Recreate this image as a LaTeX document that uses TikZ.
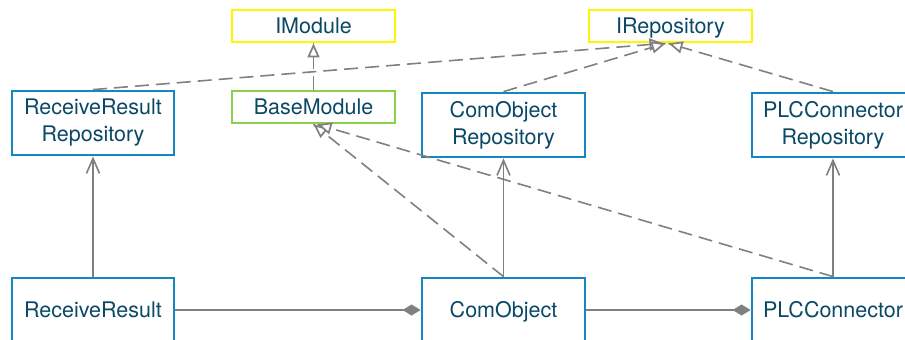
\documentclass[tikz,border=0pt]{standalone}
\usepackage{fontspec}
\setmainfont{TeX Gyre Heros}
\usetikzlibrary{arrows.meta,calc}
\definecolor{txt}{HTML}{0A4866}
\definecolor{bblue}{HTML}{1487C2}
\definecolor{bgreen}{HTML}{8CCF4D}
\definecolor{byellow}{HTML}{FFF700}
\definecolor{lgray}{HTML}{808080}
\newcommand\realizeline[2]{%
  \draw[dashconn] (#1) -- (#2);
  \draw[tipconn] ($(#2)!1pt!(#1)$) -- (#2);}
\begin{document}
\begin{tikzpicture}[x=1pt,y=-1pt,
  base/.style={line width=2.8pt,fill=white,align=center,text=txt,inner sep=0pt,
    font=\fontsize{21.5}{27}\selectfont},
  one/.style={text height=15.5pt,text depth=0pt},
  cls/.style={base,draw=bblue,minimum width=162pt,minimum height=64pt},
  iface/.style={base,one,draw=byellow,minimum width=163pt,minimum height=32pt},
  abst/.style={base,one,draw=bgreen,minimum width=163pt,minimum height=32pt},
  conn/.style={draw=lgray,line width=1.6pt},
  dashconn/.style={conn,dash pattern=on 14pt off 7pt},
  tipconn/.style={conn,line width=1.7pt,
    -{Triangle[length=14pt,width=12pt,fill=white]}},
  assoc/.style={conn,-{Straight Barb[length=15pt,width=13pt]}},
  compose/.style={conn,-{Diamond[length=18pt,width=11pt,fill=lgray]}}]
\useasboundingbox (0,0) rectangle (905,340);
\node[iface] (IModule) at (313.5,26) {IModule};
\node[iface] (IRepo) at (670.5,26) {IRepository};
\node[cls] (RRRepo) at (93,123) {ReceiveResult\\Repository};
\node[abst] (Base) at (313.5,107) {BaseModule};
\node[cls,minimum width=163pt] (CORepo) at (503.5,125) {ComObject\\Repository};
\node[cls] (PLCRepo) at (833,125) {PLCConnector\\Repository};
\node[cls,one] (RR) at (93,310) {ReceiveResult};
\node[cls,one,minimum width=163pt] (CO) at (503.5,310) {ComObject};
\node[cls,one] (PLC) at (833,310) {PLCConnector};

\coordinate (IRa) at ([xshift=-7pt]IRepo.south);
\coordinate (IRb) at ([xshift=-5pt]IRepo.south);
\coordinate (IRc) at ([xshift=-2pt]IRepo.south);
\coordinate (BMa) at (Base.south);
\coordinate (BMb) at ([xshift=4pt]Base.south);
\coordinate (IMa) at (IModule.south);

\realizeline{Base.north}{IMa}
\realizeline{RRRepo.north}{IRa}
\realizeline{CORepo.north}{IRb}
\realizeline{PLCRepo.north}{IRc}
\realizeline{CO.north}{BMa}
\realizeline{PLC.north}{BMb}
\draw[assoc] (RR.north) -- (RRRepo.south);
\draw[assoc] (CO.north) -- (CORepo.south);
\draw[assoc] (PLC.north) -- (PLCRepo.south);
\draw[compose] (RR.east) -- (CO.west);
\draw[compose] (CO.east) -- (PLC.west);
\end{tikzpicture}
\end{document}
